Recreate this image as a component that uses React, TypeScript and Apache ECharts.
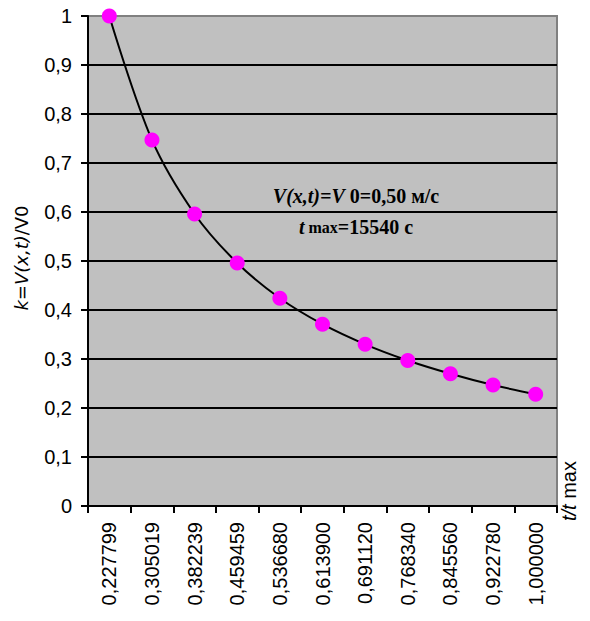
import React, { useEffect, useRef } from "react";
import * as echarts from "echarts";

const categories = [
  "0,227799", "0,305019", "0,382239", "0,459459", "0,536680", "0,613900",
  "0,691120", "0,768340", "0,845560", "0,922780", "1,000000",
];
const kValues = [1.0, 0.747, 0.596, 0.496, 0.424, 0.371, 0.330, 0.297, 0.270, 0.247, 0.228];
const yTicks = { min: 0, max: 1, interval: 0.1 };

const SANS = "'Liberation Sans', Arial, sans-serif";
const SERIF = "'Liberation Serif', 'Times New Roman', serif";

export default function App() {
  const ref = useRef<HTMLDivElement>(null);
  useEffect(() => {
    const chart = echarts.init(ref.current!, null, { renderer: "svg" });
    const splitColors = kValues.map(() => "#000000");
    splitColors[10] = "#808080";
    chart.setOption({
      animation: false,
      backgroundColor: "#ffffff",
      grid: {
        left: 88, right: 33, top: 16, bottom: 115,
        show: true, backgroundColor: "#c0c0c0", borderColor: "#808080", borderWidth: 2,
      },
      xAxis: {
        type: "category",
        data: categories,
        boundaryGap: true,
        axisLine: { show: true, lineStyle: { color: "#000", width: 2 } },
        axisTick: { show: true, length: 7, lineStyle: { color: "#000", width: 2 } },
        axisLabel: {
          rotate: 90, margin: 16, color: "#000",
          fontFamily: SANS, fontSize: 20,
        },
        splitLine: { show: false },
      },
      yAxis: {
        type: "value",
        min: yTicks.min, max: yTicks.max, interval: yTicks.interval,
        axisLine: { show: true, lineStyle: { color: "#000", width: 2 } },
        axisTick: { show: true, length: 7, lineStyle: { color: "#000", width: 2 } },
        axisLabel: {
          color: "#000", fontFamily: SANS, fontSize: 20,
          margin: 16,
          formatter: (v: number) => (Math.round(v * 10) / 10).toString().replace(".", ","),
        },
        splitLine: { show: true, lineStyle: { color: splitColors, width: 2 } },
      },
      series: [
        {
          type: "line",
          data: kValues,
          smooth: 0.35,
          symbol: "circle",
          symbolSize: 15,
          lineStyle: { color: "#000", width: 2 },
          itemStyle: { color: "#ff00ff", borderWidth: 0 },
          z: 3,
        },
      ],
      graphic: [
        {
          type: "text",
          x: 21, y: 258, rotation: Math.PI / 2,
          style: {
            text: "{i|k}{n|=}{i|V(x,t)}{n|/V0}",
            textAlign: "center", textVerticalAlign: "middle",
            rich: {
              i: { fontFamily: "'DejaVu Sans', sans-serif", fontStyle: "italic", fontSize: 18, fill: "#000" },
              n: { fontFamily: "'DejaVu Sans', sans-serif", fontSize: 18, fill: "#000" },
            },
          },
        },
        {
          type: "text",
          x: 569, y: 521, rotation: Math.PI / 2,
          style: {
            text: "{i|t/t}{n| max}",
            textAlign: "left", textVerticalAlign: "middle",
            rich: {
              i: { fontFamily: SANS, fontStyle: "italic", fontSize: 20, fill: "#000" },
              n: { fontFamily: SANS, fontSize: 20, fill: "#000" },
            },
          },
        },
        {
          type: "text",
          x: 356, y: 196,
          style: {
            text: "{bi|V(x,t)=V}{b| 0=0,50 м/с}",
            textAlign: "center", textVerticalAlign: "middle",
            rich: {
              bi: { fontFamily: SERIF, fontStyle: "italic", fontWeight: "bold", fontSize: 20, fill: "#000" },
              b: { fontFamily: SERIF, fontWeight: "bold", fontSize: 20, fill: "#000" },
            },
          },
        },
        {
          type: "text",
          x: 356, y: 227,
          style: {
            text: "{bi|t}{s| max}{b|=15540 с}",
            textAlign: "center", textVerticalAlign: "middle",
            rich: {
              bi: { fontFamily: SERIF, fontStyle: "italic", fontWeight: "bold", fontSize: 20, fill: "#000" },
              s: { fontFamily: SERIF, fontWeight: "bold", fontSize: 16, fill: "#000" },
              b: { fontFamily: SERIF, fontWeight: "bold", fontSize: 20, fill: "#000" },
            },
          },
        },
      ],
    });
    return () => chart.dispose();
  }, []);
  return <div ref={ref} style={{ width: 590, height: 621, position: "absolute", left: 0, top: 0 }} />;
}
